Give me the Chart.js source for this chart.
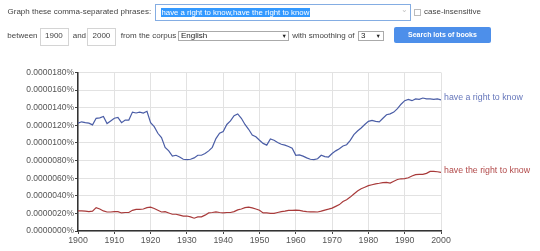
<!DOCTYPE html>
<html>
<head>
<meta charset="utf-8">
<script src="https://cdn.jsdelivr.net/npm/chart.js@4"></script>
<style>
  body { margin: 0; background: #fff; font-family: "Liberation Sans", Arial, sans-serif; font-size: 8px; color: #444; }
  #wrap { position: relative; width: 540px; height: 251px; overflow: hidden; }
  #chart { position: absolute; left: 0; top: 0; }
  .t { position: absolute; white-space: nowrap; line-height: 10px; }
  .box { position: absolute; border: 1px solid #d4d4d4; background: #fff; box-sizing: border-box; }
  .sel { position: absolute; border: 1px solid #aaa; background: #fff; box-sizing: border-box; }
  .arr { position: absolute; font-size: 5.5px; color: #222; line-height: 10px; }
</style>
</head>
<body>
<div id="wrap">
  <canvas id="chart" width="540" height="251"></canvas>

  <div class="t" style="left:7.5px;top:7px;">Graph these comma-separated phrases:</div>
  <div class="box" style="left:155px;top:4px;width:256px;height:17px;border-color:#84ade3;"></div>
  <div class="t" style="left:160.5px;top:8px;line-height:9px;font-size:7.8px;background:#3399ff;color:#fff;padding:0 1px;">have a right to know,have the right to know</div>
  <div class="t" style="left:401px;top:5px;color:#c4c4c4;font-size:8px;">&#8964;</div>
  <div class="box" style="left:414px;top:9px;width:7px;height:7px;border-color:#bbb;"></div>
  <div class="t" style="left:424px;top:7px;">case-insensitive</div>

  <div class="t" style="left:7.3px;top:31px;">between</div>
  <div class="box" style="left:40px;top:28px;width:29px;height:18px;"></div>
  <div class="t" style="left:45px;top:31px;">1900</div>
  <div class="t" style="left:72.7px;top:31px;">and</div>
  <div class="box" style="left:87.3px;top:28px;width:29px;height:18px;"></div>
  <div class="t" style="left:92.5px;top:31px;">2000</div>
  <div class="t" style="left:120.7px;top:31px;">from the corpus</div>
  <div class="sel" style="left:178px;top:30.5px;width:111px;height:10.5px;"></div>
  <div class="t" style="left:181px;top:30.7px;color:#222;">English</div>
  <div class="arr" style="left:281.5px;top:30.5px;">&#9660;</div>
  <div class="t" style="left:292.3px;top:31px;">with smoothing of</div>
  <div class="sel" style="left:358px;top:30.5px;width:26px;height:10.5px;"></div>
  <div class="t" style="left:361px;top:30.7px;color:#222;">3</div>
  <div class="arr" style="left:375.5px;top:30.5px;">&#9660;</div>
  <div style="position:absolute;left:394px;top:27px;width:97px;height:16px;background:#4d8fea;border-radius:2px;"></div>
  <div class="t" style="left:394px;top:30px;width:97px;text-align:center;color:#fff;font-weight:bold;font-size:7px;">Search lots of books</div>
</div>

<script>
  // years 1900..2000, values in units of 0.0000001 %
  var years = [];
  for (var yr = 1900; yr <= 2000; yr++) years.push(yr);

  var seriesNames = ["have a right to know", "have the right to know"];

  var aRightToKnow = [
    122.4, 124, 123, 122.5, 120.5, 128, 128.5, 130, 122, 125,
    128, 129, 123, 126, 126, 135, 134, 135, 134, 136,
    123, 118.5, 111, 106, 95, 91, 85, 86, 84, 81.5,
    81, 81.5, 83, 86, 86, 88, 91, 95, 105, 111,
    113, 121, 125, 131, 133, 128, 121, 115.5, 109, 107,
    103, 99.5, 97.5, 104.5, 103, 100.5, 98.5, 97.5, 96, 94,
    86, 86.5, 85, 83, 81.5, 81, 82, 86, 84.5, 84,
    88, 91, 93.5, 96.5, 98, 103, 109.5, 113.5, 117, 121,
    124.5, 125.5, 124.5, 124, 128, 132, 133, 135, 139, 144,
    148, 149.5, 148, 150, 149.5, 151, 150, 150, 149.5, 150,
    149
  ];

  var theRightToKnow = [
    22.8, 22.8, 22.5, 22, 22.5, 26.5, 25, 22.8, 21.6, 21.6,
    22, 22, 20.5, 21, 21, 23.5, 24.6, 24.6, 25, 26.5,
    27, 25.5, 23.5, 21.6, 22, 20.5, 19, 19, 18, 17,
    17, 16, 14.5, 16, 16, 18, 20.5, 21, 21.6, 21,
    20.5, 21, 21, 22, 24, 25, 26.5, 27, 26.3, 25,
    23.5, 20.5, 20.5, 20, 20, 21, 22, 22.5, 23.5, 23.5,
    23.7, 23.5, 22.5, 22, 21.7, 21.7, 21.6, 22.5, 23.7, 24.8,
    26, 28, 30, 33.5, 35.5, 38.5, 42, 45.5, 48, 49.7,
    51.5, 52.5, 53.5, 54.2, 55, 55.3, 54.5, 56.5, 58.5, 59.3,
    59.5, 60.5, 62.4, 64, 64.3, 64.3, 65.5, 67.7, 67.7, 67.3,
    66.5
  ];

  var lineColors = ["#4a5da6", "#a83a3a"];
  var labelColors = ["#6677bb", "#b24a4a"];

  function toPoints(vals) {
    return years.map(function(y, i) { return { x: y, y: vals[i] }; });
  }

  // series name next to the last point
  var endLabels = {
    id: "endLabels",
    afterDatasetsDraw: function(chart) {
      var ctx = chart.ctx;
      ctx.save();
      ctx.font = "8.8px 'Liberation Sans', Arial, sans-serif";
      ctx.textBaseline = "middle";
      chart.data.datasets.forEach(function(ds, i) {
        var meta = chart.getDatasetMeta(i);
        var last = meta.data[meta.data.length - 1];
        ctx.fillStyle = labelColors[i];
        ctx.fillText(ds.label, last.x + 3, last.y - 2);
      });
      ctx.restore();
    }
  };

  var ctx = document.getElementById("chart").getContext("2d");
  var chart = new Chart(ctx, {
    type: "line",
    data: {
      datasets: [{
        label: seriesNames[0],
        data: toPoints(aRightToKnow),
        borderColor: lineColors[0],
        borderWidth: 1.2,
        pointRadius: 0,
        fill: false
      }, {
        label: seriesNames[1],
        data: toPoints(theRightToKnow),
        borderColor: lineColors[1],
        borderWidth: 1.2,
        pointRadius: 0,
        fill: false
      }]
    },
    options: {
      responsive: false,
      animation: false,
      layout: { padding: { left: 0, top: 72.5, right: 99, bottom: 0 } },
      plugins: { legend: { display: false }, tooltip: { enabled: false } },
      scales: {
        x: {
          type: "linear",
          min: 1900,
          max: 2000,
          afterFit: function(s) { s.height = 20; },
          grid: { color: "#e2e2e2", tickColor: "#444", tickLength: 3 },
          border: { color: "#333", width: 1.5 },
          ticks: {
            stepSize: 10,
            padding: 1,
            color: "#555",
            font: { family: "'Liberation Sans', Arial, sans-serif", size: 8.8 },
            callback: function(v) { return String(v); }
          }
        },
        y: {
          min: 0,
          max: 180,
          afterFit: function(s) { s.width = 78; },
          grid: { color: "#e2e2e2", tickColor: "#444", tickLength: 3 },
          border: { color: "#333", width: 1.5 },
          ticks: {
            stepSize: 20,
            padding: 1,
            color: "#555",
            font: { family: "'Liberation Sans', Arial, sans-serif", size: 8.5 },
            callback: function(v) { return (v / 1e7).toFixed(7) + "%"; }
          }
        }
      }
    },
    plugins: [endLabels]
  });
</script>
</body>
</html>
